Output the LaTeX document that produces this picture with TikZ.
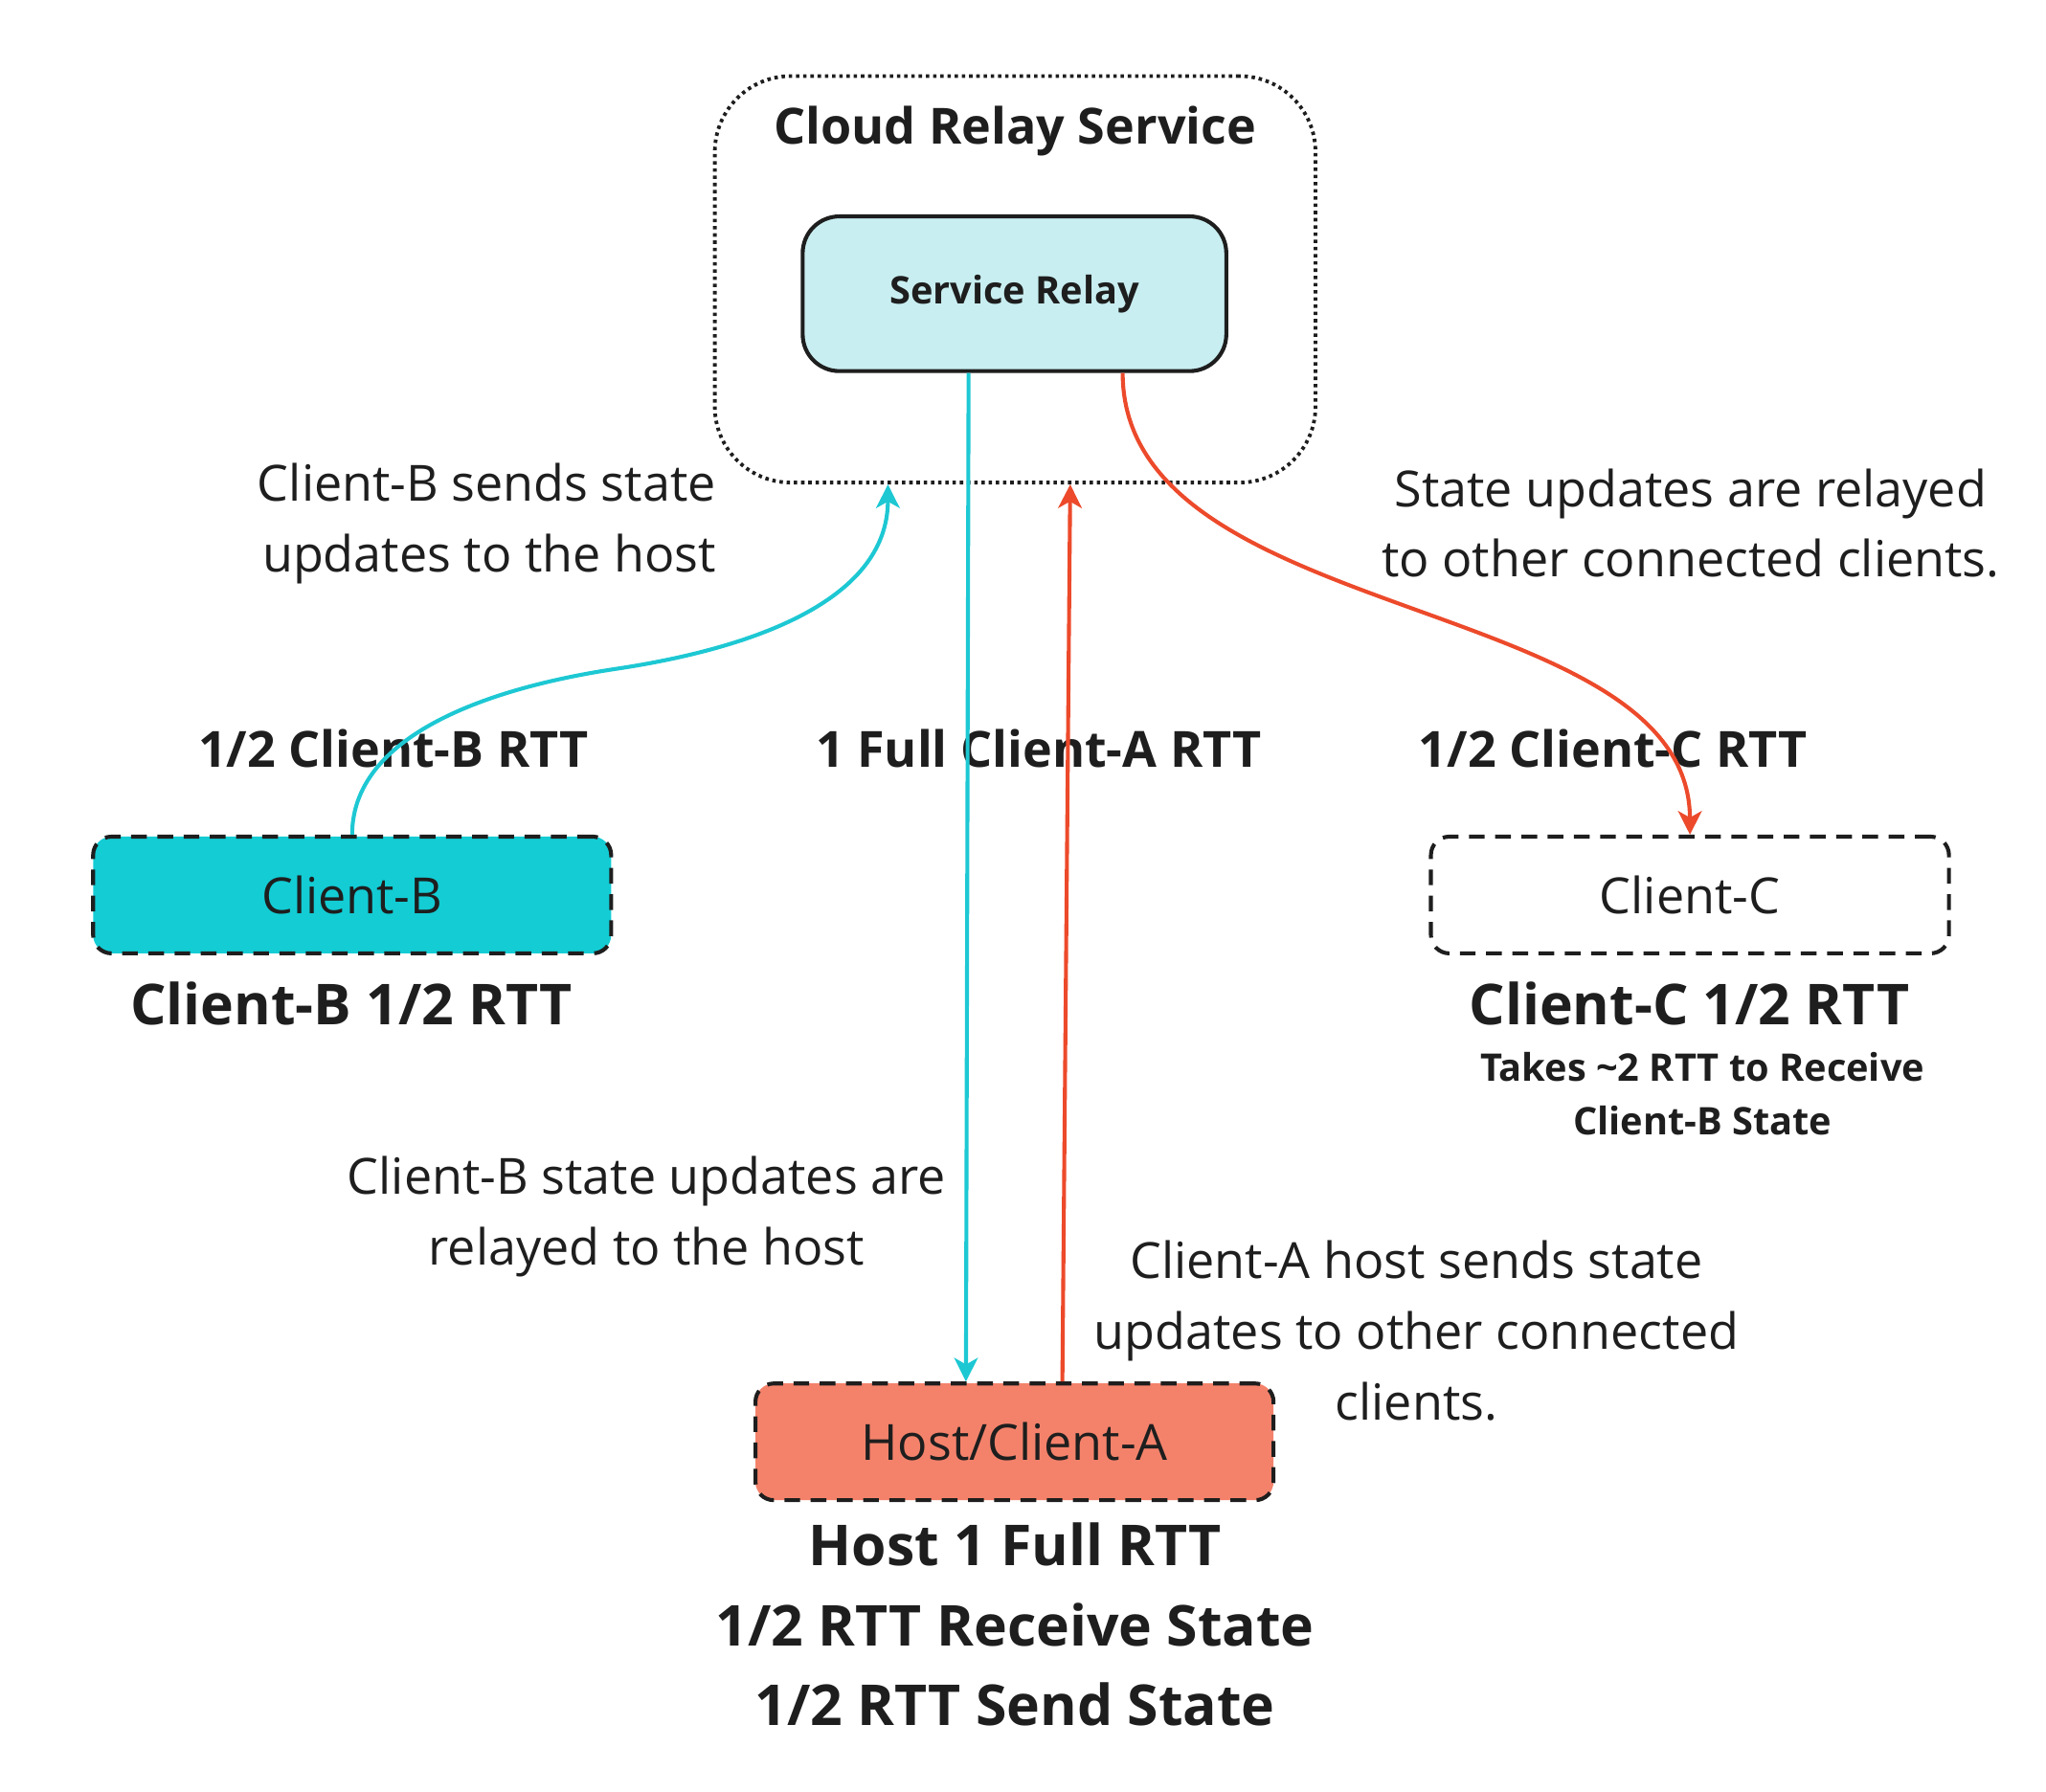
\documentclass[tikz,border=0pt]{standalone}
\usepackage{fontspec}
\setmainfont{Open Sans}
\usetikzlibrary{arrows.meta,calc}

\definecolor{ink}{HTML}{1E1E1E}
\definecolor{relayfill}{HTML}{C8EEF1}
\definecolor{clientfill}{HTML}{13CCD4}
\definecolor{hostfill}{HTML}{F4826B}
\definecolor{cyanline}{HTML}{1DC8D3}
\definecolor{redline}{HTML}{EC4A2B}

\begin{document}
\begin{tikzpicture}[x=1pt,y=-1pt,
	box/.style={draw=ink, line width=3pt, dash pattern=on 12pt off 8pt, rounded corners=14pt, minimum width=395pt, minimum height=89pt, inner sep=0pt, text=ink, font=\fontsize{38}{46}\selectfont},
	note/.style={text=ink, inner sep=0pt, align=center, font=\fontsize{38}{54}\selectfont},
	rtt/.style={text=ink, inner sep=0pt, font=\fontsize{38}{46}\selectfont\bfseries},
	bigrtt/.style={text=ink, inner sep=0pt, align=center, font=\fontsize{43}{61}\selectfont\bfseries},
	link/.style={line width=3pt, -{Stealth[length=18pt,width=18pt,inset=5pt]}}]
	\useasboundingbox (0,0) rectangle (1560,1366);

	% relay service
	\node[draw=ink, line width=2.8pt, dash pattern=on 2.6pt off 2.9pt, rounded corners=58pt, minimum width=458pt, minimum height=310pt] (cloud) at (774,213) {};
	\node[rtt] (cloudtitle) at (774,100) {Cloud Relay Service};
	\node[draw=ink, fill=relayfill, line width=3pt, rounded corners=28pt, minimum width=323pt, minimum height=118pt, text=ink, font=\fontsize{29}{35}\selectfont\bfseries] (relay) at (773.5,224) {Service Relay};

	% clients
	\node[box, fill=clientfill] (clientB) at (268.5,682.5) {Client-B};
	\node[box] (clientC) at (1288.5,682.5) {Client-C};
	\node[box, fill=hostfill] (host) at (773.5,1099.5) {Host/Client-A};

	% notes
	\node[note, anchor=east, align=right] (sendB) at (546,399) {Client-B sends state\\updates to the host};
	\node[note] (relayC) at (1289,399) {State updates are relayed\\to other connected clients.};
	\node[note] (relayHost) at (493,928) {Client-B state updates are\\relayed to the host};
	\node[note] (sendA) at (1080,1015) {Client-A host sends state\\updates to other connected\\clients.};

	\node[rtt] (rttB) at (300,571) {1/2 Client-B RTT};
	\node[rtt] (rttA) at (792,571) {1 Full Client-A RTT};
	\node[rtt] (rttC) at (1230,571) {1/2 Client-C RTT};
	\node[bigrtt] (totalB) at (268,765) {Client-B 1/2 RTT};
	\node[bigrtt] (totalC) at (1288,765) {Client-C 1/2 RTT};
	\node[text=ink, inner sep=0pt, align=center, font=\fontsize{29}{41}\selectfont\bfseries] (takes) at (1298,834) {Takes \textasciitilde2 RTT to Receive\\Client-B State};
	\node[bigrtt] (totalA) at (774,1239) {Host 1 Full RTT\\1/2 RTT Receive State\\1/2 RTT Send State};

	% links
	\draw[link, cyanline] (clientB.north) .. controls +(0,-75) and +(-100,15) .. (470,510) .. controls +(100,-15) and +(0,90) .. ($(cloud.south)+(-97,0)$);
	\draw[link, cyanline] ($(relay.south)+(-35,0)$) -- ($(host.north)+(-37,0)$);
	\draw[link, redline] ($(host.north)+(36.5,0)$) -- ($(cloud.south)+(42,0)$);
	\draw[link, redline] ($(relay.south)+(82.5,0)$) .. controls +(0,194) and +(0,-185) .. (clientC.north);
\end{tikzpicture}
\end{document}
